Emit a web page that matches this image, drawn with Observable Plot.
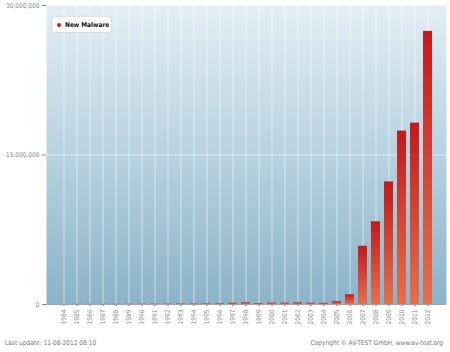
<!DOCTYPE html>
<html><head><meta charset="utf-8">
<script src="https://cdn.jsdelivr.net/npm/d3@7"></script>
<script src="https://cdn.jsdelivr.net/npm/@observablehq/plot@0.6"></script>
<style>
body{margin:0;background:#fff;font-family:"DejaVu Sans",sans-serif;}
#wrap{position:relative;width:450px;height:352px;overflow:hidden;}
#legend{position:absolute;left:52px;top:17px;width:59px;height:15px;background:#fff;border-radius:3px;box-shadow:0 0 2px rgba(0,0,0,0.15);font:bold 6.5px "DejaVu Sans Condensed","DejaVu Sans",sans-serif;color:#111;display:flex;align-items:center;white-space:nowrap;}
#legend .dot{width:4px;height:4px;border-radius:2px;background:#c0201f;margin:0 4px 0 5px;flex:none;}
.foot{position:absolute;top:339px;font:6.5px "DejaVu Sans Condensed","DejaVu Sans",sans-serif;color:#777;white-space:nowrap;}
</style></head>
<body><div id="wrap"></div>
<script>
const years = ["1984","1985","1986","1987","1988","1989","1990","1991","1992","1993","1994","1995","1996","1997","1998","1999","2000","2001","2002","2003","2004","2005","2006","2007","2008","2009","2010","2011","2012"];
const newMalware = [5000,8000,10000,12000,15000,18000,20000,25000,30000,35000,40000,45000,50000,120000,170000,90000,130000,130000,170000,120000,120000,290000,980000,5840000,8300000,12300000,17400000,18200000,27400000];
const yTicks = [0, 15000000, 30000000];
const seriesName = "New Malware";
const footLeft = "Last update: 11-08-2012 08:10";
const footRight = "Copyright © AV-TEST GmbH, www.av-test.org";

const data = years.map((y, i) => ({year: y, value: newMalware[i]}));

const chart = Plot.plot({
  width: 450, height: 335,
  marginLeft: 46, marginRight: 4, marginTop: 5, marginBottom: 31,
  style: {fontSize: "6.5px", color: "#8a8a8a", background: "transparent", fontFamily: "DejaVu Sans Condensed, DejaVu Sans, sans-serif"},
  x: {type: "band", domain: years, paddingInner: 0.27, paddingOuter: 0.135, label: null},
  y: {domain: [0, 30000000], label: null},
  marks: [
    Plot.frame({fill: "url(#bgGrad)", stroke: null}),
    Plot.gridX(years, {stroke: "#ffffff", strokeOpacity: 0.55}),
    Plot.ruleY([15000000], {stroke: "#ffffff", strokeOpacity: 0.6}),
    Plot.barY(data, {x: "year", y: "value", fill: "url(#barGrad)"}),
    Plot.axisY({ticks: yTicks, tickFormat: d3.format(","), tickSize: 4, tickPadding: 3, label: null}),
    Plot.axisX({text: null, tickSize: 2, stroke: "#d04030", label: null}),
    Plot.axisX({tickRotate: -90, tickSize: 0, tickPadding: 5, label: null, fill: "#8a8a8a"}),
    Plot.ruleY([0], {stroke: "#999", strokeWidth: 0.8})
  ]
});

const svg = d3.select(chart);
const defs = svg.insert("defs", ":first-child");
const bg = defs.append("linearGradient").attr("id", "bgGrad").attr("x1", 0).attr("y1", 0).attr("x2", 0).attr("y2", 1);
bg.append("stop").attr("offset", "0%").attr("stop-color", "#e3eef4");
bg.append("stop").attr("offset", "45%").attr("stop-color", "#bcd5e2");
bg.append("stop").attr("offset", "100%").attr("stop-color", "#8bb3c8");
const bar = defs.append("linearGradient").attr("id", "barGrad").attr("x1", 0).attr("y1", 0).attr("x2", 0).attr("y2", 1);
bar.append("stop").attr("offset", "0%").attr("stop-color", "#c21a1c");
bar.append("stop").attr("offset", "100%").attr("stop-color", "#e4704e");

const wrap = document.getElementById("wrap");
wrap.appendChild(chart);
const lg = document.createElement("div");
lg.id = "legend";
lg.innerHTML = '<span class="dot"></span><span></span>';
lg.lastChild.textContent = seriesName;
wrap.appendChild(lg);
const fl = document.createElement("div");
fl.className = "foot"; fl.style.left = "5px"; fl.textContent = footLeft;
wrap.appendChild(fl);
const fr = document.createElement("div");
fr.className = "foot"; fr.style.right = "7px"; fr.textContent = footRight;
wrap.appendChild(fr);
</script></body></html>
